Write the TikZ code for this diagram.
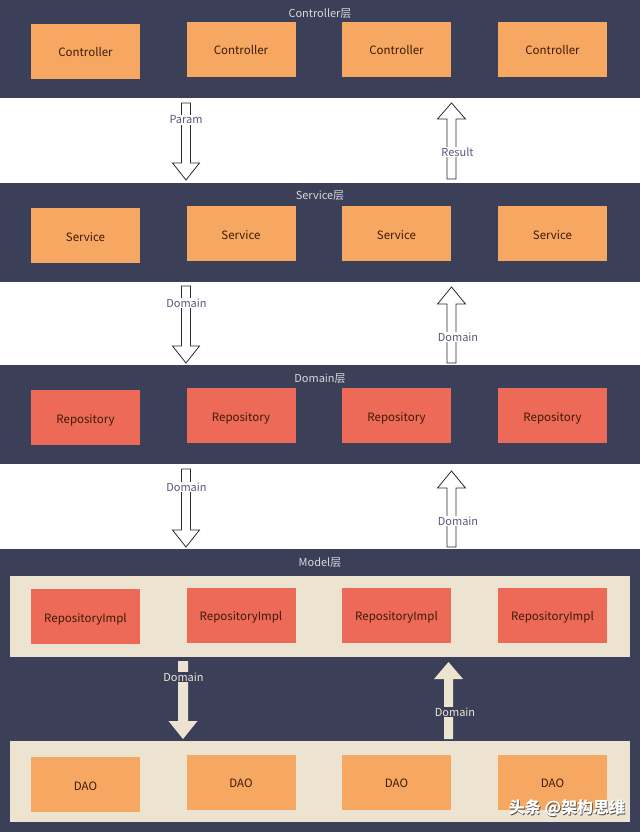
\documentclass[tikz,border=0pt]{standalone}
\usepackage{fontspec}
\setmainfont{Noto Sans CJK SC}
\definecolor{navy}{HTML}{3B3F58}
\definecolor{orng}{HTML}{F6A862}
\definecolor{redb}{HTML}{EC6A57}
\definecolor{beige}{HTML}{ECE4D0}
\definecolor{boxtxt}{HTML}{3D1A05}
\definecolor{ttl}{HTML}{D8D8E0}
\definecolor{gaplbl}{HTML}{555A78}
\definecolor{arrline}{HTML}{2A2A2A}
\newcommand\arrdown[6]{% x, top, tip, shaft half, head half, head len
  (#1-#4,#2) -- (#1+#4,#2) -- (#1+#4,#3-#6) -- (#1+#5,#3-#6) -- (#1,#3) -- (#1-#5,#3-#6) -- (#1-#4,#3-#6) -- cycle}
\newcommand\arrup[6]{% x, bottom, tip, shaft half, head half, head len
  (#1-#4,#2) -- (#1+#4,#2) -- (#1+#4,#3+#6) -- (#1+#5,#3+#6) -- (#1,#3) -- (#1-#5,#3+#6) -- (#1-#4,#3+#6) -- cycle}
\begin{document}
\begin{tikzpicture}[x=1pt,y=-1pt,
  band/.style={fill=navy,draw=none},
  tray/.style={fill=beige,draw=none},
  box/.style={minimum width=109pt,minimum height=55pt,inner sep=0pt,text height=11pt,text depth=0pt,font=\fontsize{11.5}{13}\selectfont,text=boxtxt},
  obox/.style={box,fill=orng},
  rbox/.style={box,fill=redb},
  title/.style={text=ttl,font=\fontsize{11}{13}\selectfont,inner sep=1pt},
  hollow/.style={fill=white,draw=arrline,line width=0.8pt},
  solid/.style={fill=beige,draw=none},
  glabel/.style={text=gaplbl,fill=white,font=\fontsize{11}{13}\selectfont,inner sep=1pt},
  mlabel/.style={text=beige,fill=navy,font=\fontsize{11}{13}\selectfont,inner sep=1pt},
  wmark/.style={font=\fontsize{16}{18}\selectfont\bfseries}]
\useasboundingbox (0,0) rectangle (640,832);
\fill[white] (0,0) rectangle (640,832);
% bands
\path[band] (0,0) rectangle (640,98);
\path[band] (0,183) rectangle (640,282);
\path[band] (0,365) rectangle (640,464);
\path[band] (0,549) rectangle (640,832);
\path[tray] (10,576) rectangle (630,657);
\path[tray] (10,741) rectangle (630,822);
% titles
\node[title] (t1) at (320,14) {Controller层};
\node[title] (t2) at (320,196) {Service层};
\node[title] (t3) at (320,379) {Domain层};
\node[title] (t4) at (320,563) {Model层};
% row 1
\node[obox] (c1) at (85.5,51.5) {Controller};
\node[obox] (c2) at (241,49.5) {Controller};
\node[obox] (c3) at (396.5,49.5) {Controller};
\node[obox] (c4) at (552.5,49.5) {Controller};
% row 2
\node[obox] (s1) at (85.5,235.5) {Service};
\node[obox] (s2) at (241,233.5) {Service};
\node[obox] (s3) at (396.5,233.5) {Service};
\node[obox] (s4) at (552.5,233.5) {Service};
% row 3
\node[rbox] (r1) at (85.5,417.5) {Repository};
\node[rbox] (r2) at (241,415.5) {Repository};
\node[rbox] (r3) at (396.5,415.5) {Repository};
\node[rbox] (r4) at (552.5,415.5) {Repository};
% row 4
\node[rbox] (i1) at (85.5,616.5) {RepositoryImpl};
\node[rbox] (i2) at (241,615) {RepositoryImpl};
\node[rbox] (i3) at (396.5,615) {RepositoryImpl};
\node[rbox] (i4) at (552.5,615) {RepositoryImpl};
% row 5
\node[obox] (d1) at (85.5,784.5) {DAO};
\node[obox] (d2) at (241,782) {DAO};
\node[obox] (d3) at (396.5,782) {DAO};
\node[obox] (d4) at (552.5,782) {DAO};
% arrows in white gaps
\draw[hollow] \arrdown{186}{103}{180}{4.5}{13.5}{17};
\node[glabel] (l1) at (186,120) {Param};
\draw[hollow] \arrup{451.5}{179}{103}{4.5}{14}{16};
\node[glabel] (l2) at (457.5,152) {Result};
\draw[hollow] \arrdown{186}{286}{363}{4.5}{13.5}{17};
\node[glabel] (l3) at (186.5,303) {Domain};
\draw[hollow] \arrup{451.5}{363}{287}{4.5}{14}{17};
\node[glabel] (l4) at (458,337) {Domain};
\draw[hollow] \arrdown{186}{469}{547}{4.5}{13.5}{17};
\node[glabel] (l5) at (186.5,487) {Domain};
\draw[hollow] \arrup{451.5}{547}{471}{4.5}{14}{17};
\node[glabel] (l6) at (458,521) {Domain};
% arrows in model band
\path[solid] \arrdown{183}{661}{739}{5}{14.5}{18};
\node[mlabel] (l7) at (183.5,677) {Domain};
\path[solid] \arrup{448.5}{739}{662}{4.5}{14.5}{17};
\node[mlabel] (l8) at (455,712) {Domain};
% watermark
\node[wmark,text=black!70] at (567.8,808.8) {头条 @架构思维};
\node[wmark,text=white] (wm) at (567,808) {头条 @架构思维};
\end{tikzpicture}
\end{document}
